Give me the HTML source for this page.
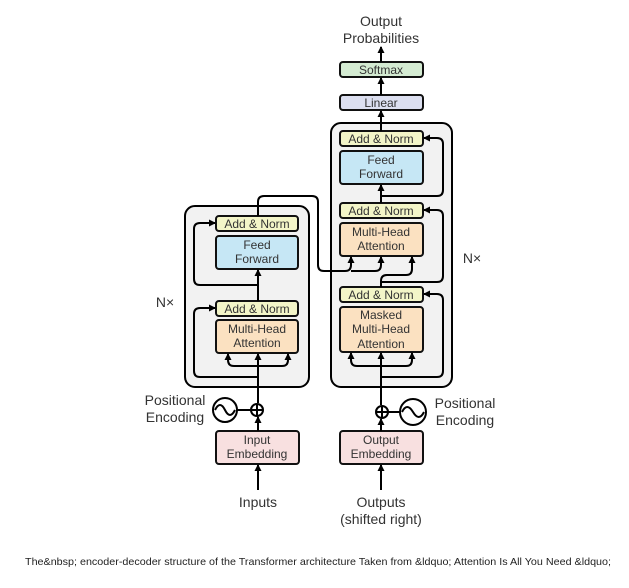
<!DOCTYPE html>
<html><head><meta charset="utf-8"><style>
body{margin:0;background:#fff;width:629px;height:583px;overflow:hidden}
svg text{font-family:"Liberation Sans",sans-serif;fill:#333}
</style></head><body>
<svg width="629" height="583" viewBox="0 0 629 583" xmlns="http://www.w3.org/2000/svg">
<defs><marker id="a" markerWidth="8" markerHeight="8" refX="6" refY="4" orient="auto" markerUnits="userSpaceOnUse"><path d="M0,0.5 L7,4 L0,7.5 z" fill="#000"/></marker></defs>
<g stroke="#000" stroke-width="2" fill="none">
<rect x="185" y="206" width="124" height="181" rx="10" fill="#f2f2f2"/>
<rect x="331" y="123" width="121" height="264" rx="10" fill="#f2f2f2"/>
</g>
<g stroke="#111" stroke-width="2">
<rect x="216" y="216" width="82" height="15" rx="3" fill="#f3f5c8"/>
<rect x="216" y="236" width="82" height="33" rx="3" fill="#c6e7f5"/>
<rect x="216" y="301" width="82" height="15" rx="3" fill="#f3f5c8"/>
<rect x="216" y="320" width="82" height="33" rx="3" fill="#fbe1c1"/>
<rect x="340" y="131" width="83" height="15" rx="3" fill="#f3f5c8"/>
<rect x="340" y="151" width="83" height="33" rx="3" fill="#c6e7f5"/>
<rect x="340" y="203" width="83" height="15" rx="3" fill="#f3f5c8"/>
<rect x="340" y="223" width="83" height="33" rx="3" fill="#fbe1c1"/>
<rect x="340" y="287" width="83" height="15" rx="3" fill="#f3f5c8"/>
<rect x="340" y="307" width="83" height="45" rx="3" fill="#fbe1c1"/>
<rect x="340" y="95" width="83" height="15" rx="3" fill="#dcdff0"/>
<rect x="340" y="62" width="83" height="15" rx="3" fill="#d4ebd2"/>
<rect x="216" y="431" width="83" height="33" rx="3" fill="#f8e0e0"/>
<rect x="340" y="431" width="83" height="33" rx="3" fill="#f8e0e0"/>
</g>
<g stroke="#000" stroke-width="2" fill="none" marker-end="url(#a)">
<line x1="258" y1="490" x2="258" y2="465"/>
<line x1="258" y1="431" x2="258" y2="417"/>
<line x1="258" y1="403" x2="258" y2="354"/>
<path d="M258,366 H234 Q228,366 228,360 V354"/>
<path d="M258,366 H282 Q288,366 288,360 V354"/>
<path d="M258,377 H200 Q194,377 194,371 V314 Q194,308 200,308 H215"/>
<line x1="258" y1="301" x2="258" y2="270"/>
<path d="M258,285 H200 Q194,285 194,279 V229 Q194,223 200,223 H215"/>
<path d="M258,216 V202 Q258,196 264,196 H312 Q318,196 318,202 V265 Q318,271 324,271 H345 Q351,271 351,265 V257" />
<path d="M351,271 H375 Q381,271 381,265 V257"/>
<line x1="381" y1="490" x2="381" y2="465"/>
<line x1="381" y1="431" x2="381" y2="419"/>
<line x1="381" y1="405" x2="381" y2="353"/>
<path d="M381,366 H357 Q351,366 351,360 V353"/>
<path d="M381,366 H406 Q412,366 412,360 V353"/>
<path d="M381,377 H437 Q443,377 443,371 V300 Q443,294 437,294 H424"/>
<path d="M381,287 V281 Q381,275 387,275 H406 Q412,275 412,269 V257"/>
<path d="M381,282 H437 Q443,282 443,276 V216 Q443,210 437,210 H424"/>
<line x1="381" y1="203" x2="381" y2="185"/>
<path d="M381,196 H437 Q443,196 443,190 V144 Q443,138 437,138 H424"/>
<line x1="381" y1="131" x2="381" y2="111"/>
<line x1="381" y1="95" x2="381" y2="78"/>
<line x1="381" y1="62" x2="381" y2="47"/>
</g>
<g stroke="#000" stroke-width="2" fill="#fff">
<circle cx="257" cy="410" r="6"/>
<line x1="251" y1="410" x2="263" y2="410"/><line x1="257" y1="404" x2="257" y2="416"/>
<line x1="237" y1="410" x2="251" y2="410"/>
<circle cx="225" cy="410" r="12"/>
<path d="M215,410 Q220,400 225,410 T235,410" fill="none"/>
<circle cx="382" cy="412" r="6"/>
<line x1="376" y1="412" x2="388" y2="412"/><line x1="382" y1="406" x2="382" y2="418"/>
<line x1="388" y1="412" x2="400" y2="412"/>
<circle cx="413" cy="412" r="13"/>
<path d="M402,412 Q407,402 413,412 T424,412" fill="none"/>
</g>
<g font-size="12" text-anchor="middle">
<text x="257" y="228">Add &amp; Norm</text>
<text x="257" y="249">Feed</text><text x="257" y="263">Forward</text>
<text x="257" y="313">Add &amp; Norm</text>
<text x="257" y="333">Multi-Head</text><text x="257" y="347">Attention</text>
<text x="381" y="143">Add &amp; Norm</text>
<text x="381" y="164">Feed</text><text x="381" y="178">Forward</text>
<text x="381" y="215">Add &amp; Norm</text>
<text x="381" y="236">Multi-Head</text><text x="381" y="250">Attention</text>
<text x="381" y="299">Add &amp; Norm</text>
<text x="381" y="319">Masked</text><text x="381" y="333">Multi-Head</text><text x="381" y="348">Attention</text>
<text x="381" y="107">Linear</text>
<text x="381" y="74">Softmax</text>
<text x="257" y="444">Input</text><text x="257" y="458">Embedding</text>
<text x="381" y="444">Output</text><text x="381" y="458">Embedding</text>
</g>
<g font-size="14" text-anchor="middle">
<text x="381" y="26">Output</text><text x="381" y="43">Probabilities</text>
<text x="258" y="507">Inputs</text>
<text x="381" y="507">Outputs</text><text x="381" y="524">(shifted right)</text>
<text x="175" y="405">Positional</text><text x="175" y="422">Encoding</text>
<text x="465" y="408">Positional</text><text x="465" y="425">Encoding</text>
<text x="165" y="307">N×</text>
<text x="472" y="263">N×</text>
</g>
<text x="25" y="565" font-size="10.5" textLength="586" lengthAdjust="spacingAndGlyphs" style="fill:#222">The&amp;nbsp; encoder-decoder structure of the Transformer architecture Taken from &amp;ldquo; Attention Is All You Need &amp;ldquo;</text>
</svg>
</body></html>
